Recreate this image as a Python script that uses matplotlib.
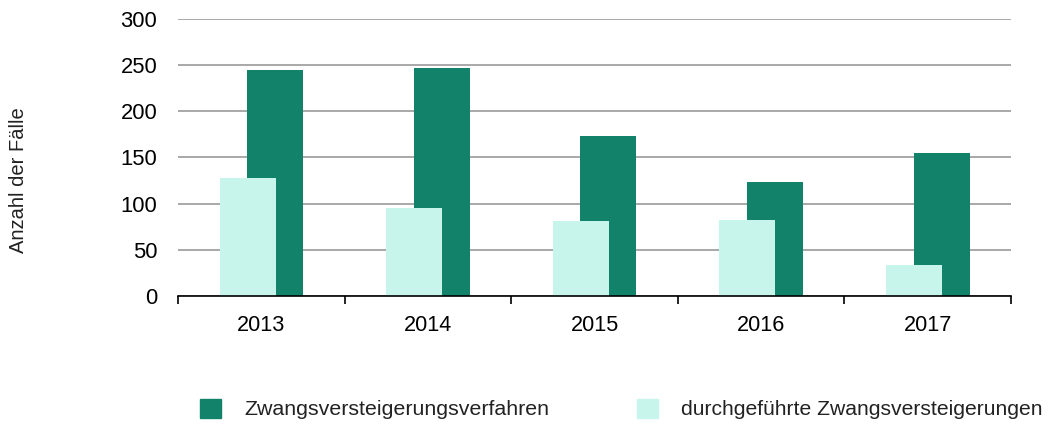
import numpy as np
import matplotlib.pyplot as plt
from matplotlib.patches import Patch

plt.rcParams['font.family'] = ['Liberation Sans', 'DejaVu Sans']

jahre = ['2013', '2014', '2015', '2016', '2017']
verfahren = [245, 247, 173, 123, 155]
durchgefuehrt = [128, 95, 81, 82, 34]

dunkel = '#13826B'
hell = '#C7F5EB'

fig = plt.figure(figsize=(10.51, 4.26), dpi=100)
ax = fig.add_axes([0.1694, 0.3052, 0.7926, 0.6502])

x = np.arange(len(jahre))
w = 0.336
ax.bar(x + 0.083, verfahren, w, color=dunkel, zorder=2)
ax.bar(x - 0.083, durchgefuehrt, w, color=hell, zorder=3)

ax.set_xlim(-0.5, 4.5)
ax.set_ylim(0, 300)
ax.set_yticks(range(0, 301, 50))
ax.yaxis.grid(True, color='#999999', linewidth=1.2, zorder=0)
ax.set_axisbelow(True)

ax.set_xticks(x)
ax.set_xticklabels(jahre)
ax.set_xticks(np.arange(-0.5, 5, 1), minor=True)
ax.tick_params(axis='x', which='major', length=0, pad=14, labelsize=15.6)
ax.tick_params(axis='x', which='minor', length=6, width=1.2, direction='out')
ax.tick_params(axis='y', length=0, pad=15, labelsize=15.8)

for s in ['left', 'right', 'top']:
    ax.spines[s].set_visible(False)
ax.spines['bottom'].set_linewidth(1.2)
ax.spines['bottom'].set_zorder(4)

fig.text(0.018, 0.578, 'Anzahl der Fälle', rotation=90, ha='center', va='center',
         fontsize=14.5, color='#222222')

leg1 = fig.legend(handles=[Patch(color=dunkel, label='Zwangsversteigerungsverfahren')],
                  loc='center left', bbox_to_anchor=(0.1903, 0.04), frameon=False,
                  borderpad=0, borderaxespad=0,
                  fontsize=15.4, handlelength=1.0, handleheight=1.0, handletextpad=1.07)
leg2 = fig.legend(handles=[Patch(color=hell, label='durchgeführte Zwangsversteigerungen')],
                  loc='center left', bbox_to_anchor=(0.606, 0.04), frameon=False,
                  borderpad=0, borderaxespad=0,
                  fontsize=15.2, handlelength=1.0, handleheight=1.0, handletextpad=1.07)
for t in leg1.get_texts() + leg2.get_texts():
    t.set_color('#222222')

fig.savefig('out.png', dpi=100)
